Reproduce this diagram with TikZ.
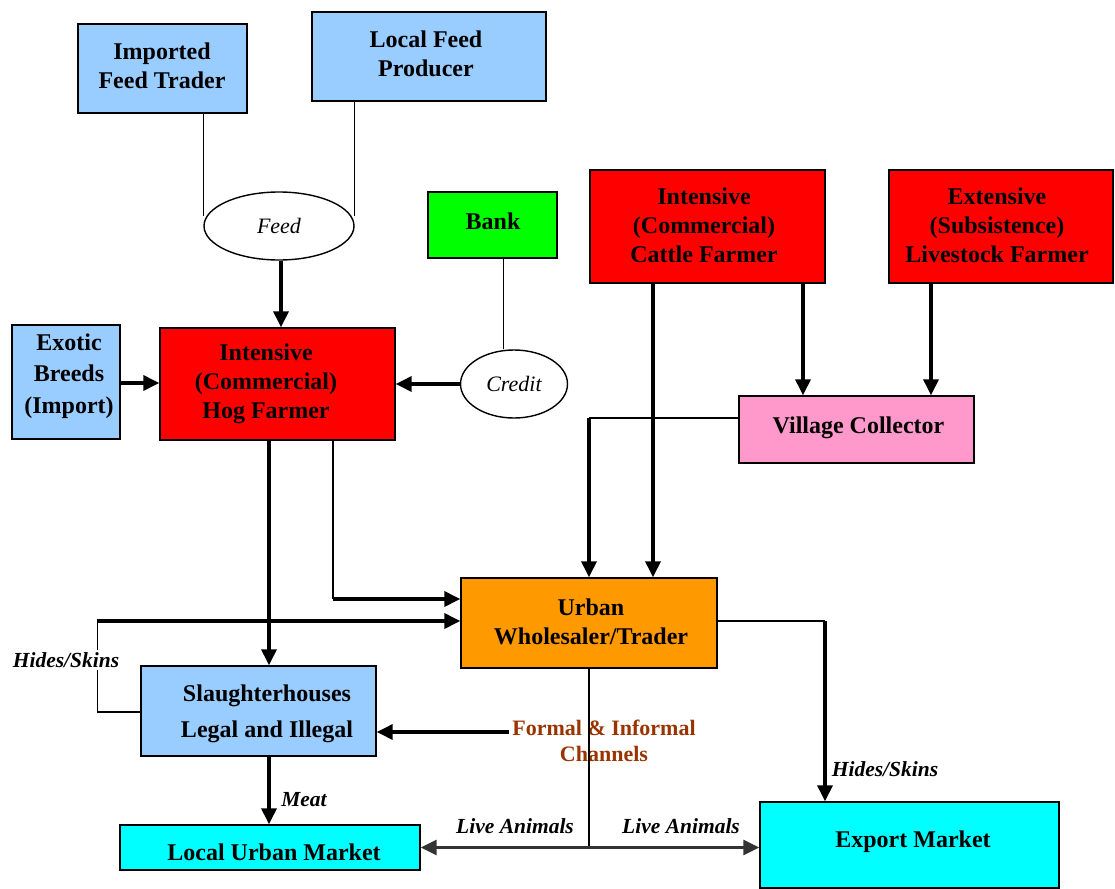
\documentclass[tikz,border=0pt]{standalone}
\usepackage{fontspec}
\setmainfont{Liberation Serif}
\usetikzlibrary{arrows.meta,calc,shapes.geometric}
\definecolor{skyblue}{HTML}{99CCFF}
\definecolor{hotred}{HTML}{FF0000}
\definecolor{bankgreen}{HTML}{00FF00}
\definecolor{pinkbox}{HTML}{FF99CC}
\definecolor{orangebox}{HTML}{FF9900}
\definecolor{cyanbox}{HTML}{00FFFF}
\definecolor{channelbrown}{HTML}{993300}
\definecolor{darkline}{HTML}{333333}
\newcommand{\bxfont}{\fontsize{24}{29}\selectfont\bfseries}
\newcommand{\lblfont}{\fontsize{21.5}{26}\selectfont\bfseries\itshape}
\newcommand{\ovfont}{\fontsize{22}{26}\selectfont\itshape}
\begin{document}
\begin{tikzpicture}[x=1pt,y=-1pt,
  box/.style={draw=black, line width=1.4pt, inner sep=0pt, align=center, font=\bxfont},
  btext/.style={inner sep=0pt, align=center, font=\bxfont},
  oval/.style={draw=black, line width=1.4pt, ellipse, inner sep=0pt, font=\ovfont},
  lbl/.style={inner sep=1pt, font=\lblfont},
  thinline/.style={draw=black, line width=1.2pt},
  flow/.style={draw=black, line width=3.5pt, -{Triangle[length=16pt,width=15pt]}},
  twoway/.style={draw=darkline, line width=3pt, {Triangle[length=16pt,width=15pt]}-{Triangle[length=16pt,width=15pt]}}]
\useasboundingbox (0,0) rectangle (1115,888);

% boxes
\node[box, fill=skyblue, minimum width=169pt, minimum height=89pt] (ift) at (162.5,68.5) {};
\node[btext] (iftt) at (162,66) {Imported\\Feed Trader};
\node[box, fill=skyblue, minimum width=234pt, minimum height=89pt] (lfp) at (429,56.5) {};
\node[btext] (lfpt) at (426,54) {Local Feed\\Producer};
\node[oval, minimum width=150pt, minimum height=68pt] (feed) at (279,226) {Feed};
\node[box, fill=bankgreen, minimum width=129pt, minimum height=66pt] (bank) at (492.5,225) {};
\node[btext] (bankt) at (493,221) {Bank};
\node[oval, minimum width=107pt, minimum height=68pt] (credit) at (514,384) {Credit};
\node[box, fill=hotred, minimum width=235pt, minimum height=112pt] (hog) at (277.5,384) {};
\node[btext] (hogt) at (266,384) {Intensive\\(Commercial)\\Hog Farmer};
\node[box, fill=skyblue, minimum width=108pt, minimum height=114pt] (exo) at (66,382) {};
\node[btext, font=\fontsize{24}{31.5}\selectfont\bfseries] (exot) at (69,376) {Exotic\\Breeds\\(Import)};
\node[box, fill=hotred, minimum width=235pt, minimum height=113pt] (icf) at (707.5,226.5) {};
\node[btext] (icft) at (704,225.5) {Intensive\\(Commercial)\\Cattle Farmer};
\node[box, fill=hotred, minimum width=224pt, minimum height=113pt] (esf) at (1001,226.5) {};
\node[btext] (esft) at (997,225.5) {Extensive\\(Subsistence)\\Livestock Farmer};
\node[box, fill=pinkbox, minimum width=235pt, minimum height=67pt] (vc) at (856.5,429.5) {};
\node[btext] (vct) at (858.5,428) {Village Collector};
\node[box, fill=orangebox, minimum width=256pt, minimum height=90pt] (urb) at (589,623) {};
\node[btext] (urbt) at (591,621.5) {Urban\\Wholesaler/Trader};
\node[box, fill=skyblue, minimum width=235pt, minimum height=90pt] (sl) at (258.5,711) {};
\node[btext, font=\fontsize{24}{36}\selectfont\bfseries] (slt) at (267,714) {Slaughterhouses\\Legal and Illegal};
\node[box, fill=cyanbox, minimum width=300pt, minimum height=45pt] (lum) at (270,847.5) {};
\node[btext] (lumt) at (274,852) {Local Urban Market};
\node[box, fill=cyanbox, minimum width=299pt, minimum height=86pt] (exp) at (909.5,845) {};
\node[btext] (expt) at (913,842) {Export Market};

% feed supply
\draw[thinline] (ift.south -| feed.west) -- ([yshift=10pt]feed.west);
\draw[thinline] (lfp.south -| feed.east) -- ([yshift=10pt]feed.east);
\draw[flow] ([xshift=2pt]feed.south) -- ([xshift=2pt]feed.south |- hog.north);

% credit
\draw[thinline] ([xshift=11pt]bank.south) -- ([xshift=11pt]bank.south |- credit.north);
\draw[flow] (credit.west) -- (credit.west -| hog.east);
\draw[flow] ([yshift=-1pt]exo.east) -- ([yshift=-1pt]exo.east -| hog.west);

% cattle flows
\draw[flow] ([xshift=95.5pt]icf.south) -- ([xshift=95.5pt]icf.south |- vc.north);
\draw[flow] ([xshift=-70pt]esf.south) -- ([xshift=-70pt]esf.south |- vc.north);
\draw[flow] ([xshift=-54.5pt]icf.south) -- ([xshift=-54.5pt]icf.south |- urb.north);
\coordinate (vcbend) at ($(vc.west)+(0,-11.5)$);
\draw[thinline] (vcbend) -- (vcbend -| urb.north);
\draw[flow] (vcbend -| urb.north) -- (urb.north);

% hog flows
\coordinate (hogdrop) at ($(hog.south)+(55.5,0)$);
\coordinate (urbin) at ($(urb.west)+(0,-24)$);
\draw[thinline] (hogdrop) -- (hogdrop |- urbin);
\draw[flow] (hogdrop |- urbin) -- (urbin);
\draw[flow] ([xshift=-8.5pt]hog.south) -- ([xshift=-8.5pt]hog.south |- sl.north);

% hides and skins back to the wholesaler
\coordinate (hsdown) at ($(sl.west)+(-43,1)$);
\coordinate (hsup) at ($(sl.west)+(-43,-90)$);
\draw[thinline] ([yshift=-1pt]sl.west) -- (hsdown) -- (hsup);
\draw[flow] (hsup) -- (hsup -| urb.west);
\node[lbl, fill=white, inner sep=2pt] (hsl) at (66,660) {Hides/Skins};

% formal and informal channels
\node[inner sep=3pt, align=center, text=channelbrown, font=\fontsize{22}{26}\selectfont\bfseries] (fc) at (604,741) {Formal \& Informal\\Channels};
\draw[flow] ([yshift=9pt]fc.west) -- ([yshift=9pt]fc.west -| sl.east);

% meat
\draw[flow] ([xshift=10.5pt]sl.south) -- ([xshift=10.5pt]sl.south |- lum.north);
\node[lbl] (meat) at (304,800) {Meat};

% live animals
\coordinate (split) at (urb.south |- lum.east);
\draw[thinline] (urb.south) -- (split);
\draw[twoway] (lum.east) -- (lum.east -| exp.west);
\node[lbl] (la1) at (515,826) {Live Animals};
\node[lbl] (la2) at (681,826) {Live Animals};

% hides and skins to export
\coordinate (hx) at ($(exp.north)+(-84.5,0)$);
\draw[thinline] ([yshift=2pt]urb.east) -- ([yshift=2pt]urb.east -| hx);
\draw[flow] ([yshift=2pt]urb.east -| hx) -- (hx);
\node[lbl] (hsr) at (885,769) {Hides/Skins};
\end{tikzpicture}
\end{document}
